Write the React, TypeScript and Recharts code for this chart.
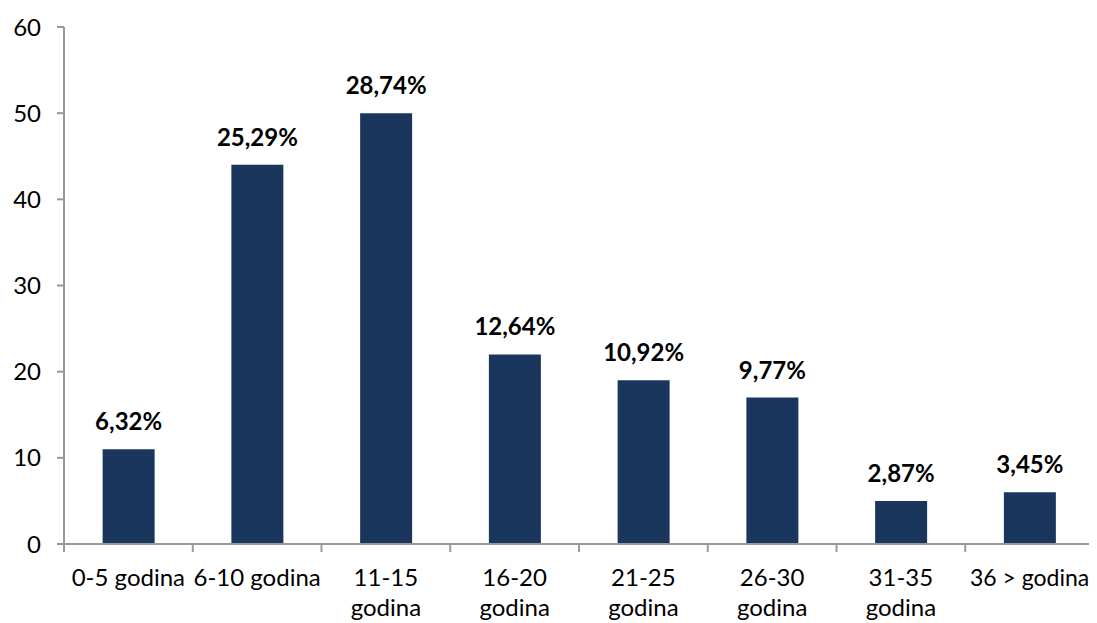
import React from "react";
import { BarChart, Bar, XAxis, YAxis, LabelList } from "recharts";

const categories = [
  ["0-5 godina"],
  ["6-10 godina"],
  ["11-15", "godina"],
  ["16-20", "godina"],
  ["21-25", "godina"],
  ["26-30", "godina"],
  ["31-35", "godina"],
  ["36 > godina"],
];
const counts = [11, 44, 50, 22, 19, 17, 5, 6];
const shares = ["6,32%", "25,29%", "28,74%", "12,64%", "10,92%", "9,77%", "2,87%", "3,45%"];
const yTicks = [0, 10, 20, 30, 40, 50, 60];

const data = counts.map((v, i) => ({
  name: categories[i].join(" "),
  value: v,
  share: shares[i],
}));

const FONT = "Lato, 'Open Sans', sans-serif";
const AXIS = "#999999";
const BAR = "#1b365d";

// category label plus Excel-style tick marks on the band boundaries
function CategoryTick(props: any) {
  const { x, y, index, payload } = props;
  const lines = categories[index] || [];
  const half = payload && payload.offset ? payload.offset : 64.375;
  const last = index === categories.length - 1;
  return (
    <g>
      <line x1={x - half} x2={x - half} y1={y} y2={y + 8} stroke={AXIS} strokeWidth={2} />
      {last && (
        <line x1={x + half} x2={x + half} y1={y} y2={y + 8} stroke={AXIS} strokeWidth={2} />
      )}
      {lines.map((l, i) => (
        <text
          key={i}
          x={x}
          y={y + 42 + i * 30}
          textAnchor="middle"
          fontFamily={FONT}
          fontSize={last ? 23 : 24}
          fill="#000"
        >
          {l}
        </text>
      ))}
    </g>
  );
}

export default function App() {
  return (
    <BarChart
      width={1089}
      height={615}
      data={data}
      margin={{ top: 19, right: 3, left: 0, bottom: 0 }}
      barCategoryGap="30%"
    >
      <XAxis
        dataKey="name"
        height={79}
        interval={0}
        tickLine={false}
        tickSize={0}
        tickMargin={0}
        axisLine={{ stroke: AXIS, strokeWidth: 2 }}
        tick={<CategoryTick />}
      />
      <YAxis
        domain={[0, 60]}
        ticks={yTicks}
        width={56}
        tickSize={7}
        tickMargin={16}
        interval={0}
        axisLine={{ stroke: AXIS, strokeWidth: 2 }}
        tickLine={{ stroke: AXIS, strokeWidth: 2 }}
        tick={{ fontFamily: FONT, fontSize: 24, fill: "#000" }}
      />
      <Bar dataKey="value" fill={BAR} isAnimationActive={false}>
        <LabelList
          dataKey="share"
          position="top"
          offset={19}
          fontFamily={FONT}
          fontSize={24}
          fontWeight="bold"
          fill="#000"
        />
      </Bar>
    </BarChart>
  );
}
